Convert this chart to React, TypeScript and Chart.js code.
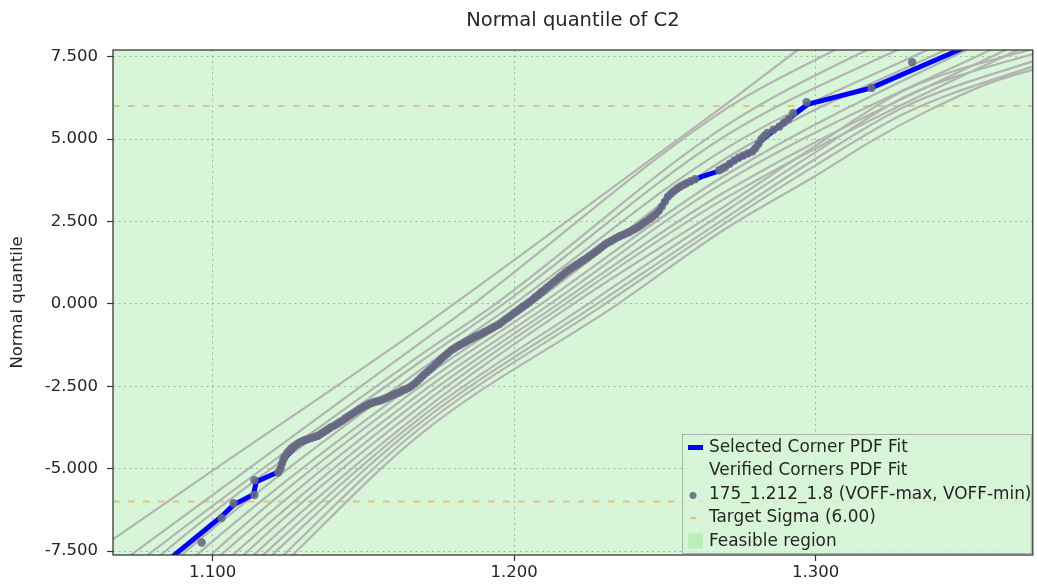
import React, { useEffect, useRef } from 'react';
import { Chart, registerables } from 'chart.js';

Chart.register(...registerables);

const chartTitle = 'Normal quantile of C2';
const yAxisTitle = 'Normal quantile';

const X_MIN = 1.067;
const X_MAX = 1.372;
const Y_MIN = -7.62;
const Y_MAX = 7.7;
const xTickValues = [1.1, 1.2, 1.3];
const yTickValues = [-7.5, -5, -2.5, 0, 2.5, 5, 7.5];
const targetSigma = 6;

const legendLabels = [
  'Selected Corner PDF Fit',
  'Verified Corners PDF Fit',
  '175_1.212_1.8 (VOFF-max, VOFF-min)',
  'Target Sigma (6.00)',
  'Feasible region',
];

type Pt = [number, number];

const selectedFit: Pt[] = [
  [1.084, -7.85], [1.0874, -7.62], [1.103, -6.45], [1.107, -6.1], [1.1136, -5.78], [1.1145, -5.4],
  [1.1218, -5.1], [1.1238, -4.7], [1.1284, -4.25], [1.135, -4.03], [1.1436, -3.52], [1.15, -3.12],
  [1.158, -2.85], [1.1658, -2.52], [1.169, -2.25], [1.179, -1.42], [1.1939, -0.7], [1.2048, 0.05],
  [1.2157, 0.85], [1.227, 1.58], [1.2322, 1.91], [1.24, 2.25], [1.2478, 2.79], [1.251, 3.27],
  [1.2567, 3.63], [1.262, 3.85], [1.2676, 4.02], [1.2732, 4.35], [1.2789, 4.62], [1.282, 4.95],
  [1.2873, 5.35], [1.292, 5.68], [1.2973, 6.05], [1.3185, 6.55], [1.348, 7.72], [1.352, 7.9],
];

const cornerSamples: Pt[] = [
  [1.0964, -7.24], [1.103, -6.5], [1.107, -6.05], [1.1139, -5.8], [1.1139, -5.35], [1.1218, -5.12],
  [1.1225, -5.0], [1.123, -4.85], [1.1235, -4.72], [1.124, -4.62], [1.1248, -4.52], [1.1255, -4.45],
  [1.1262, -4.38], [1.127, -4.32], [1.128, -4.26], [1.129, -4.2], [1.13, -4.15], [1.131, -4.12],
  [1.132, -4.09], [1.133, -4.06], [1.134, -4.03], [1.135, -4.0], [1.136, -3.94], [1.137, -3.88],
  [1.138, -3.82], [1.139, -3.76], [1.14, -3.71], [1.141, -3.66], [1.142, -3.6], [1.143, -3.55],
  [1.144, -3.48], [1.145, -3.42], [1.146, -3.36], [1.147, -3.3], [1.148, -3.24], [1.149, -3.18],
  [1.15, -3.13], [1.151, -3.08], [1.152, -3.04], [1.153, -3.0], [1.154, -2.97], [1.155, -2.95],
  [1.156, -2.92], [1.157, -2.88], [1.158, -2.84], [1.159, -2.8], [1.16, -2.76], [1.161, -2.72],
  [1.162, -2.68], [1.163, -2.63], [1.164, -2.59], [1.165, -2.55], [1.166, -2.49], [1.167, -2.42],
  [1.168, -2.34], [1.169, -2.25], [1.17, -2.16], [1.171, -2.08], [1.172, -2.0], [1.173, -1.92],
  [1.174, -1.83], [1.175, -1.75], [1.176, -1.66], [1.177, -1.58], [1.178, -1.5], [1.179, -1.42],
  [1.18, -1.36], [1.181, -1.3], [1.182, -1.25], [1.183, -1.2], [1.184, -1.15], [1.185, -1.1],
  [1.186, -1.05], [1.187, -1.0], [1.188, -0.96], [1.189, -0.92], [1.19, -0.87], [1.191, -0.82],
  [1.192, -0.77], [1.193, -0.72], [1.194, -0.67], [1.195, -0.62], [1.196, -0.55], [1.197, -0.48],
  [1.198, -0.42], [1.199, -0.35], [1.2, -0.28], [1.201, -0.22], [1.202, -0.15], [1.203, -0.08],
  [1.204, -0.02], [1.205, 0.05], [1.206, 0.12], [1.207, 0.2], [1.208, 0.27], [1.209, 0.35],
  [1.21, 0.42], [1.211, 0.5], [1.212, 0.57], [1.213, 0.65], [1.214, 0.72], [1.215, 0.8],
  [1.216, 0.87], [1.217, 0.95], [1.218, 1.02], [1.219, 1.08], [1.22, 1.14], [1.221, 1.2],
  [1.222, 1.26], [1.223, 1.32], [1.224, 1.38], [1.225, 1.45], [1.226, 1.51], [1.227, 1.58],
  [1.228, 1.65], [1.229, 1.72], [1.23, 1.79], [1.231, 1.85], [1.232, 1.9], [1.233, 1.95],
  [1.234, 2.0], [1.235, 2.05], [1.236, 2.09], [1.237, 2.13], [1.238, 2.17], [1.239, 2.22],
  [1.24, 2.27], [1.241, 2.32], [1.242, 2.38], [1.243, 2.45], [1.244, 2.51], [1.245, 2.58],
  [1.246, 2.65], [1.247, 2.72], [1.248, 2.82], [1.249, 2.95], [1.25, 3.1], [1.251, 3.25],
  [1.252, 3.34], [1.253, 3.42], [1.254, 3.49], [1.255, 3.55], [1.256, 3.6], [1.257, 3.65],
  [1.2585, 3.72], [1.26, 3.78], [1.268, 4.05], [1.269, 4.1], [1.27, 4.15], [1.2715, 4.25],
  [1.273, 4.35], [1.2745, 4.43], [1.276, 4.5], [1.2775, 4.56], [1.279, 4.62], [1.28, 4.72],
  [1.281, 4.85], [1.282, 5.0], [1.283, 5.1], [1.284, 5.18], [1.286, 5.28], [1.288, 5.38],
  [1.2895, 5.5], [1.291, 5.6], [1.2925, 5.78], [1.297, 6.12], [1.3185, 6.55], [1.332, 7.33],
];

const verifiedFit01: Pt[] = [[1.055, -7.9], [1.101, -5.0], [1.169, -0.73], [1.2455, 4.39], [1.271, 6.1], [1.294, 7.7], [1.3, 8.1]];
const verifiedFit02: Pt[] = [[1.068, -7.95], [1.0732, -7.6], [1.169, -1.18], [1.1866, 0], [1.27, 5.9], [1.3063, 7.7], [1.315, 8.1]];
const verifiedFit03: Pt[] = [[1.074, -7.95], [1.0788, -7.6], [1.169, -1.55], [1.1939, 0], [1.27, 5.39], [1.317, 7.7], [1.327, 8.1]];
const verifiedFit04: Pt[] = [[1.079, -7.95], [1.0831, -7.6], [1.169, -1.75], [1.1965, 0], [1.27, 5.09], [1.327, 7.7], [1.337, 8.1]];
const verifiedFit05: Pt[] = [[1.086, -7.95], [1.09, -7.6], [1.169, -2.0], [1.2, 0], [1.27, 4.7], [1.337, 7.7], [1.347, 8.1]];
const verifiedFit06: Pt[] = [[1.091, -7.95], [1.095, -7.6], [1.169, -2.3], [1.206, 0], [1.27, 4.4], [1.343, 7.7], [1.353, 8.1]];
const verifiedFit07: Pt[] = [[1.096, -7.95], [1.0997, -7.6], [1.169, -2.5], [1.209, 0], [1.27, 3.9], [1.35, 7.7], [1.36, 8.1]];
const verifiedFit08: Pt[] = [[1.099, -7.95], [1.103, -7.6], [1.169, -2.7], [1.212, 0], [1.27, 3.7], [1.358, 7.7], [1.368, 8.1]];
const verifiedFit09: Pt[] = [[1.103, -7.95], [1.107, -7.6], [1.169, -2.9], [1.2147, 0], [1.27, 3.4], [1.363, 7.7], [1.373, 8.1]];
const verifiedFit10: Pt[] = [[1.107, -7.95], [1.1106, -7.6], [1.169, -3.1], [1.217, 0], [1.27, 3.2], [1.367, 7.7], [1.38, 8.2]];
const verifiedFit11: Pt[] = [[1.11, -7.95], [1.1139, -7.6], [1.169, -3.3], [1.2197, 0], [1.27, 2.97], [1.3, 4.8], [1.33, 6.5], [1.38, 7.95]];
const verifiedFit12: Pt[] = [[1.113, -7.95], [1.117, -7.6], [1.169, -3.45], [1.2246, 0], [1.27, 2.8], [1.3, 4.6], [1.33, 6.3], [1.38, 7.8]];
const verifiedFit13: Pt[] = [[1.116, -7.95], [1.12, -7.6], [1.169, -3.6], [1.2275, 0], [1.27, 2.6], [1.3, 4.4], [1.33, 6.0], [1.38, 7.6]];
const verifiedFit14: Pt[] = [[1.12, -7.95], [1.1238, -7.6], [1.169, -3.76], [1.2302, 0], [1.27, 2.45], [1.3, 4.2], [1.33, 5.8], [1.38, 7.45]];
const verifiedFit15: Pt[] = [[1.123, -7.95], [1.1268, -7.6], [1.169, -3.95], [1.2345, 0], [1.27, 2.27], [1.2997, 3.87], [1.3195, 4.99], [1.336, 5.8], [1.358, 6.71], [1.38, 7.3]];

const verifiedFits: Pt[][] = [
  verifiedFit01, verifiedFit02, verifiedFit03, verifiedFit04, verifiedFit05,
  verifiedFit06, verifiedFit07, verifiedFit08, verifiedFit09, verifiedFit10,
  verifiedFit11, verifiedFit12, verifiedFit13, verifiedFit14, verifiedFit15,
];

const FONT = "'DejaVu Sans', sans-serif";
const TEXT = '#262626';
const FEASIBLE_BG = '#d7f5d7';
const GRAY_LINE = '#b3b3b3';
const BLUE = '#0000ff';
const DOT = 'rgba(104,106,130,0.9)';
const SIGMA = 'rgba(240,150,30,0.5)';

const toXY = (pts: Pt[]) => pts.map(([x, y]) => ({ x, y }));

const decorPlugin = {
  id: 'decor',
  beforeDraw(chart: any) {
    const { ctx, chartArea: a } = chart;
    ctx.save();
    ctx.fillStyle = '#ffffff';
    ctx.fillRect(0, 0, chart.width, chart.height);
    ctx.fillStyle = FEASIBLE_BG;
    ctx.fillRect(a.left, a.top, a.right - a.left, a.bottom - a.top);
    ctx.restore();
  },
  afterDraw(chart: any) {
    const { ctx, chartArea: a } = chart;
    ctx.save();
    ctx.strokeStyle = '#3a3a3a';
    ctx.lineWidth = 1.3;
    ctx.strokeRect(a.left, a.top, a.right - a.left, a.bottom - a.top);
    ctx.fillStyle = TEXT;
    ctx.font = `19.5px ${FONT}`;
    ctx.textAlign = 'center';
    ctx.textBaseline = 'middle';
    ctx.fillText(chartTitle, (a.left + a.right) / 2, 21);
    const bx = 682, by = 434, bw = a.right - 2 - bx, bh = a.bottom - 2 - by;
    ctx.fillStyle = 'rgba(215,245,215,0.8)';
    ctx.fillRect(bx, by, bw, bh);
    ctx.strokeStyle = '#a9b3a9';
    ctx.lineWidth = 1;
    ctx.strokeRect(bx + 0.5, by + 0.5, bw, bh);
    const rowY = [447.5, 471, 494.5, 518, 541.5];
    ctx.font = `16.9px ${FONT}`;
    ctx.textAlign = 'left';
    ctx.textBaseline = 'middle';
    ctx.fillStyle = TEXT;
    legendLabels.forEach((t, i) => ctx.fillText(t, 709, rowY[i]));
    ctx.fillStyle = BLUE;
    ctx.fillRect(688, rowY[0] - 2.5, 15, 5);
    ctx.fillStyle = DOT;
    ctx.beginPath();
    ctx.arc(693, rowY[2] + 1, 3.5, 0, Math.PI * 2);
    ctx.fill();
    ctx.strokeStyle = SIGMA;
    ctx.lineWidth = 2;
    ctx.beginPath();
    ctx.moveTo(690, rowY[3]);
    ctx.lineTo(696, rowY[3]);
    ctx.stroke();
    ctx.fillStyle = 'rgba(144,238,144,0.45)';
    ctx.fillRect(688, rowY[4] - 8, 15, 15);
    ctx.restore();
  },
};

export default function App() {
  const ref = useRef<HTMLCanvasElement | null>(null);

  useEffect(() => {
    document.body.style.margin = '0';
    const canvas = ref.current;
    if (!canvas) return;

    const datasets: any[] = [];
    datasets.push({
      label: legendLabels[2],
      data: toXY(cornerSamples),
      showLine: false,
      pointRadius: 4.2,
      pointBackgroundColor: DOT,
      pointBorderWidth: 0,
      order: 0,
      clip: 0,
    });
    datasets.push({
      label: legendLabels[0],
      data: toXY(selectedFit),
      showLine: true,
      borderColor: BLUE,
      borderWidth: 5,
      pointRadius: 0,
      tension: 0,
      order: 1,
      clip: 0,
    });
    verifiedFits.forEach((f, i) => {
      datasets.push({
        label: i === 0 ? legendLabels[1] : `_verified_${i}`,
        data: toXY(f),
        showLine: true,
        borderColor: GRAY_LINE,
        borderWidth: 2.2,
        pointRadius: 0,
        cubicInterpolationMode: 'monotone',
        order: 2,
        clip: 0,
      });
    });
    [targetSigma, -targetSigma].forEach((s) => {
      datasets.push({
        label: legendLabels[3],
        data: [{ x: X_MIN, y: s }, { x: X_MAX, y: s }],
        showLine: true,
        borderColor: SIGMA,
        borderWidth: 2,
        borderDash: [6.5, 8.5],
        pointRadius: 0,
        order: 3,
        clip: 0,
      });
    });

    const chart = new Chart(canvas, {
      type: 'scatter',
      data: { datasets },
      plugins: [decorPlugin],
      options: {
        animation: false,
        responsive: false,
        devicePixelRatio: 1,
        layout: { padding: { top: 50, right: 1, bottom: 0, left: 0 } },
        plugins: {
          legend: { display: false },
          title: { display: false },
          tooltip: { enabled: false },
        },
        font: { family: FONT },
        scales: {
          x: {
            type: 'linear',
            min: X_MIN,
            max: X_MAX,
            afterBuildTicks: (s: any) => {
              s.ticks = xTickValues.map((v) => ({ value: v }));
            },
            afterFit: (s: any) => {
              s.height = 30;
            },
            ticks: {
              callback: (v: any) => Number(v).toFixed(3),
              color: TEXT,
              font: { family: FONT, size: 16.5 },
              padding: 2,
              maxRotation: 0,
              autoSkip: false,
            },
            grid: {
              color: 'rgba(120,130,120,0.55)',
              lineWidth: 1,
              drawTicks: true,
              tickLength: 6,
              tickColor: '#333',
              tickWidth: 1.2,
            },
            border: { display: false, dash: [2, 3.5] },
          },
          y: {
            type: 'linear',
            min: Y_MIN,
            max: Y_MAX,
            afterBuildTicks: (s: any) => {
              s.ticks = yTickValues.map((v) => ({ value: v }));
            },
            afterFit: (s: any) => {
              s.width = 113;
            },
            ticks: {
              callback: (v: any) => Number(v).toFixed(3),
              color: TEXT,
              font: { family: FONT, size: 16.5 },
              padding: 9,
              autoSkip: false,
            },
            grid: {
              color: 'rgba(120,130,120,0.55)',
              lineWidth: 1,
              drawTicks: true,
              tickLength: 6,
              tickColor: '#333',
              tickWidth: 1.2,
            },
            border: { display: false, dash: [2, 3.5] },
            title: {
              display: true,
              text: yAxisTitle,
              color: TEXT,
              font: { family: FONT, size: 16.5 },
              padding: { top: 8, bottom: 0 },
            },
          },
        },
      } as any,
    });
    return () => chart.destroy();
  }, []);

  return (
    <div style={{ width: 1037, height: 585 }}>
      <canvas ref={ref} width={1037} height={585} style={{ display: 'block', width: 1037, height: 585 }} />
    </div>
  );
}
